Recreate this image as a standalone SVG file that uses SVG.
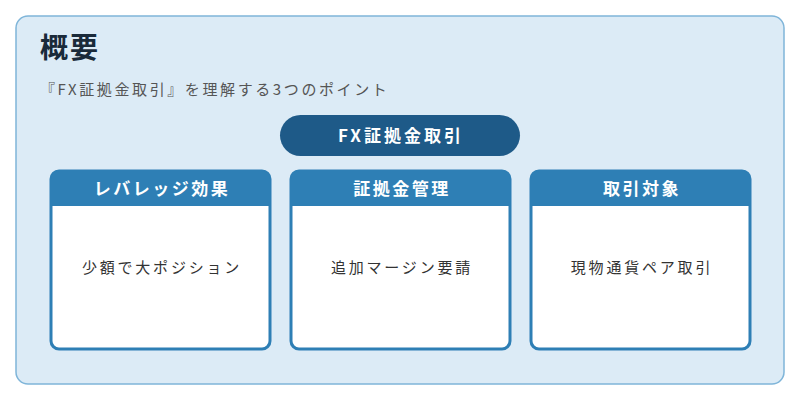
<svg xmlns="http://www.w3.org/2000/svg" width="800" height="400" viewBox="0 0 800 400">
<style>
text{font-family:"Noto Sans CJK JP","Noto Sans",sans-serif}
.card{fill:#fff;stroke:#2e7fb5;stroke-width:3}
.hd{fill:#2e7fb5}
.ht{fill:#fff;font-size:17px;font-weight:bold;text-anchor:middle;letter-spacing:2.5px}
.bt{fill:#333;font-size:15px;text-anchor:middle;letter-spacing:2.8px}
</style>
<rect x="0" y="0" width="800" height="400" fill="#ffffff"/>
<rect x="16" y="16" width="768" height="368" rx="12" fill="#dcebf6" stroke="#7fb5d9" stroke-width="1.5"/>
<text x="40" y="58" font-size="28" font-weight="bold" fill="#1a2a3a" letter-spacing="2">概要</text>
<text x="40" y="95" font-size="15" fill="#555" letter-spacing="2.6">『FX証拠金取引』を理解する3つのポイント</text>
<g id="root">
<rect x="280" y="115" width="240" height="41" rx="20.5" fill="#1e5a88"/>
<text x="401" y="142" class="ht" font-size="18" style="letter-spacing:3px">FX証拠金取引</text>
</g>
<g id="n1">
<rect x="51" y="171" width="219" height="178" rx="8" class="card"/>
<path d="M51 206 V179 a8 8 0 0 1 8 -8 H262 a8 8 0 0 1 8 8 V206 Z" class="hd"/>
<text x="162" y="195" class="ht">レバレッジ効果</text>
<text x="162" y="273" class="bt">少額で大ポジション</text>
</g>
<g id="n2">
<rect x="291" y="171" width="219" height="178" rx="8" class="card"/>
<path d="M291 206 V179 a8 8 0 0 1 8 -8 H502 a8 8 0 0 1 8 8 V206 Z" class="hd"/>
<text x="402" y="195" class="ht">証拠金管理</text>
<text x="402" y="273" class="bt">追加マージン要請</text>
</g>
<g id="n3">
<rect x="531" y="171" width="219" height="178" rx="8" class="card"/>
<path d="M531 206 V179 a8 8 0 0 1 8 -8 H742 a8 8 0 0 1 8 8 V206 Z" class="hd"/>
<text x="642" y="195" class="ht">取引対象</text>
<text x="642" y="273" class="bt">現物通貨ペア取引</text>
</g>
<g id="connectors"/>
</svg>
